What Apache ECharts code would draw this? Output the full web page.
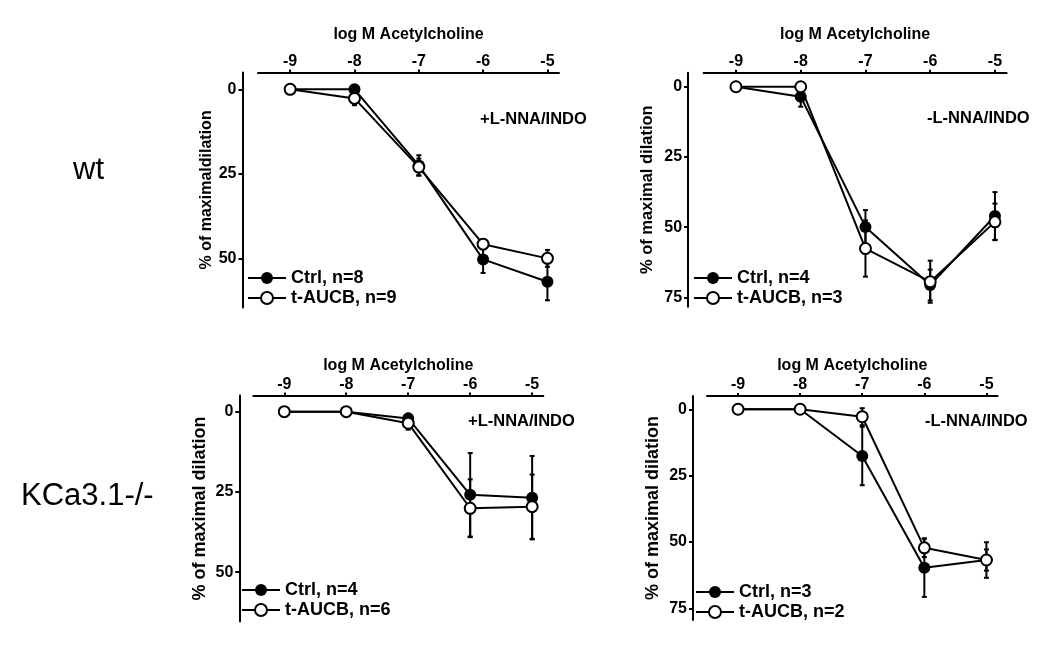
<!DOCTYPE html>
<html>
<head>
<meta charset="utf-8">
<script src="https://cdn.jsdelivr.net/npm/echarts@6/dist/echarts.min.js"></script>
<style>
html,body{margin:0;padding:0;background:#fff;}
#c{width:1050px;height:651px;}
</style>
</head>
<body>
<div id="c"></div>
<script>
// ---- data ----
const logDose = [-9, -8, -7, -6, -5];
const xTickLabels = [-9, -8, -7, -6, -5];
const yTicksShort = [0, 25, 50];
const yTicksLong = [0, 25, 50, 75];

// wt, +L-NNA/INDO
const p1CtrlMean = [0, 0, 22.5, 50.3, 56.9];
const p1CtrlErr  = [0, 0, 3, 4, 5.5];
const p1AucbMean = [0, 2.7, 23, 45.8, 50];
const p1AucbErr  = [0, 2, 2.5, 1.5, 2.5];

// wt, -L-NNA/INDO
const p2CtrlMean = [0, 3.6, 49.9, 70.6, 46];
const p2CtrlErr  = [0, 3.5, 6, 5.5, 8.5];
const p2AucbMean = [0, 0, 57.6, 69.4, 48.1];
const p2AucbErr  = [0, 0, 10, 7.5, 6.5];

// KCa3.1-/-, +L-NNA/INDO
const p3CtrlMean = [0, 0, 2.1, 25.9, 26.8];
const p3CtrlErr  = [0, 0, 1.5, 13, 13];
const p3AucbMean = [0, 0, 3.6, 30.1, 29.6];
const p3AucbErr  = [0, 0, 2, 9, 10];

// KCa3.1-/-, -L-NNA/INDO
const p4CtrlMean = [0, 0, 17.6, 59.7, 56.8];
const p4CtrlErr  = [0, 0, 11, 11, 6.7];
const p4AucbMean = [0, 0, 2.8, 52.2, 56.8];
const p4AucbErr  = [0, 0, 3.2, 3.5, 4];

const panelNames = [
  ['Ctrl, n=8', 't-AUCB, n=9'],
  ['Ctrl, n=4', 't-AUCB, n=3'],
  ['Ctrl, n=4', 't-AUCB, n=6'],
  ['Ctrl, n=3', 't-AUCB, n=2']
];
const panelNotes = ['+L-NNA/INDO', '-L-NNA/INDO', '+L-NNA/INDO', '-L-NNA/INDO'];
const yNames = ['% of maximaldilation', '% of maximal dilation', '% of maximal dilation', '% of maximal dilation'];
const xName = 'log M Acetylcholine';
const rowLabels = ['wt', 'KCa3.1-/-'];

// ---- layout ----
const FONT = '"Liberation Sans", Arial, sans-serif';
const panels = [
  {grid:{left:258, top:72.4, width:301, height:235}, ymax:64.5, yticks:yTicksShort, yoff:15.5, ynameSize:16, ynameGap:28, xnameGap:30,
   ctrl:[p1CtrlMean,p1CtrlErr], aucb:[p1AucbMean,p1AucbErr], legend:{left:247, top:269}, note:{left:480, top:111}},
  {grid:{left:703.6, top:72.7, width:303, height:234}, ymax:78.3, yticks:yTicksLong, yoff:15.5, ynameSize:16.5, ynameGap:32, xnameGap:30,
   ctrl:[p2CtrlMean,p2CtrlErr], aucb:[p2AucbMean,p2AucbErr], legend:{left:693, top:269}, note:{left:927, top:110}},
  {grid:{left:253.3, top:395.6, width:290, height:226}, ymax:65.4, yticks:yTicksShort, yoff:14, ynameSize:18, ynameGap:30, xnameGap:22,
   ctrl:[p3CtrlMean,p3CtrlErr], aucb:[p3AucbMean,p3AucbErr], legend:{left:241, top:581}, note:{left:468, top:413}},
  {grid:{left:707, top:396, width:290.6, height:224}, ymax:79.4, yticks:yTicksLong, yoff:14, ynameSize:18, ynameGap:30.5, xnameGap:22,
   ctrl:[p4CtrlMean,p4CtrlErr], aucb:[p4AucbMean,p4AucbErr], legend:{left:695, top:583}, note:{left:925, top:413}}
];

const grids = [], xAxes = [], yAxes = [], series = [], legends = [], titles = [];

function errData(mean, err) {
  return logDose.map((x, i) => [x, mean[i] - err[i], mean[i] + err[i], err[i]]);
}
function errRender(params, api) {
  if (api.value(3) <= 0) return null;
  const x = api.value(0);
  const lo = api.coord([x, api.value(1)]);
  const hi = api.coord([x, api.value(2)]);
  const cw = 2.5;
  const st = {stroke:'#000', lineWidth:2};
  return {type:'group', children:[
    {type:'line', shape:{x1:lo[0], y1:lo[1], x2:hi[0], y2:hi[1]}, style:st},
    {type:'line', shape:{x1:lo[0]-cw, y1:lo[1], x2:lo[0]+cw, y2:lo[1]}, style:st},
    {type:'line', shape:{x1:hi[0]-cw, y1:hi[1], x2:hi[0]+cw, y2:hi[1]}, style:st}
  ]};
}

panels.forEach((p, k) => {
  grids.push(Object.assign({containLabel:false}, p.grid));
  xAxes.push({
    type:'value', gridIndex:k, position:'top', min:-9.5, max:-4.82,
    name:xName, nameLocation:'middle', nameGap:p.xnameGap,
    nameTextStyle:{fontFamily:FONT, fontWeight:'bold', fontSize:16, color:'#000'},
    axisLine:{show:true, onZero:false, lineStyle:{color:'#000', width:2}},
    axisTick:{show:true, length:3, customValues:logDose, lineStyle:{color:'#000', width:2}},
    axisLabel:{show:true, customValues:xTickLabels, margin:3, fontFamily:FONT, fontWeight:'bold', fontSize:16, color:'#000'},
    splitLine:{show:false}
  });
  yAxes.push({
    type:'value', gridIndex:k, inverse:true, min:-5, max:p.ymax, position:'left', offset:p.yoff,
    name:yNames[k], nameLocation:'middle', nameGap:p.ynameGap, nameRotate:90,
    nameTextStyle:{fontFamily:FONT, fontWeight:'bold', fontSize:p.ynameSize, color:'#000'},
    axisLine:{show:true, onZero:false, lineStyle:{color:'#000', width:2}},
    axisTick:{show:true, length:4, customValues:p.yticks, lineStyle:{color:'#000', width:2}},
    axisLabel:{show:true, customValues:p.yticks, margin:6, fontFamily:FONT, fontWeight:'bold', fontSize:16, color:'#000'},
    splitLine:{show:false}
  });
  const names = panelNames[k];
  series.push({type:'custom', xAxisIndex:k, yAxisIndex:k, z:1, silent:true,
    renderItem:errRender, data:errData(p.ctrl[0], p.ctrl[1]), encode:{x:0, y:[1,2]}});
  series.push({type:'custom', xAxisIndex:k, yAxisIndex:k, z:1, silent:true,
    renderItem:errRender, data:errData(p.aucb[0], p.aucb[1]), encode:{x:0, y:[1,2]}});
  series.push({type:'line', name:names[0], xAxisIndex:k, yAxisIndex:k, z:3,
    data:logDose.map((x,i)=>[x, p.ctrl[0][i]]),
    symbol:'circle', symbolSize:12, showAllSymbol:true,
    itemStyle:{color:'#000'}, lineStyle:{color:'#000', width:2}});
  series.push({type:'line', name:names[1], xAxisIndex:k, yAxisIndex:k, z:4,
    data:logDose.map((x,i)=>[x, p.aucb[0][i]]),
    symbol:'emptyCircle', symbolSize:11, showAllSymbol:true,
    itemStyle:{color:'#000', borderWidth:2}, lineStyle:{color:'#000', width:2}});
  legends.push({
    data:names, orient:'vertical', left:p.legend.left, top:p.legend.top, padding:0,
    itemWidth:38, itemHeight:15, itemGap:2, selectedMode:false,
    textStyle:{fontFamily:FONT, fontWeight:'bold', fontSize:18, color:'#000'}
  });
  titles.push({text:panelNotes[k], left:p.note.left, top:p.note.top, padding:0,
    textStyle:{fontFamily:FONT, fontWeight:'bold', fontSize:16.5, color:'#000'}});
});

titles.push({text:rowLabels[0], left:73, top:155, padding:0,
  textStyle:{fontFamily:FONT, fontWeight:'normal', fontSize:31, color:'#000'}});
titles.push({text:rowLabels[1], left:21, top:481, padding:0,
  textStyle:{fontFamily:FONT, fontWeight:'normal', fontSize:31, color:'#000'}});

const chart = echarts.init(document.getElementById('c'), null, {renderer:'canvas'});
chart.setOption({
  animation:false,
  backgroundColor:'#fff',
  title:titles,
  legend:legends,
  grid:grids,
  xAxis:xAxes,
  yAxis:yAxes,
  series:series
});
</script>
</body>
</html>
